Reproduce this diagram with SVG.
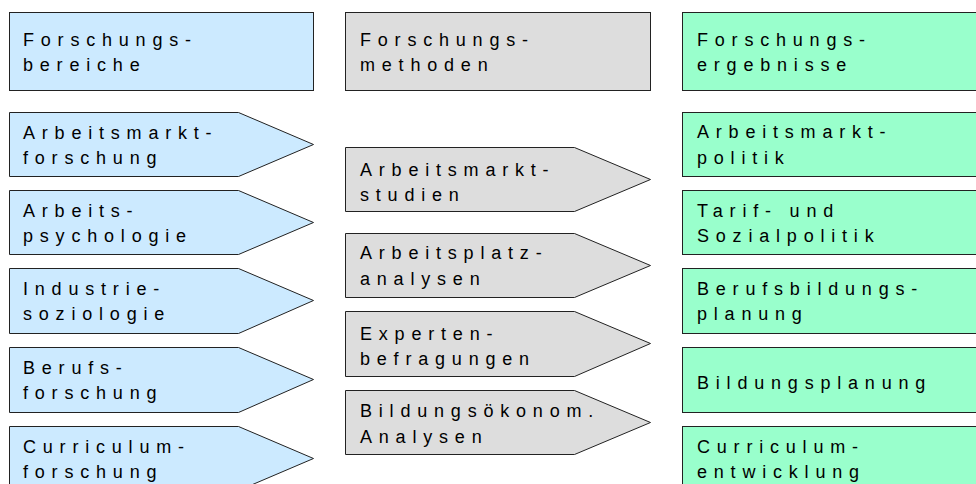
<svg xmlns="http://www.w3.org/2000/svg" width="976" height="484" viewBox="0 0 976 484">
<style>
.b{fill:#CCEAFF;stroke:#222;stroke-width:1}
.g{fill:#DDDDDD;stroke:#222;stroke-width:1}
.e{fill:#99FFCC;stroke:#222;stroke-width:1}
text{font-family:"Liberation Sans",Arial,sans-serif;font-size:18px;fill:#000;letter-spacing:6.8px}
</style>
<rect width="976" height="484" fill="#fff"/>
<g id="h-bereiche"><rect class="b" x="9.5" y="12.5" width="304" height="78"/><text x="23" y="46">Forschungs-</text><text x="23" y="71">bereiche</text></g>
<g id="h-methoden"><rect class="g" x="345.5" y="12.5" width="305" height="78"/><text x="360" y="46">Forschungs-</text><text x="360" y="71">methoden</text></g>
<g id="h-ergebnisse"><rect class="e" x="682.5" y="12.5" width="300" height="78"/><text x="697" y="46">Forschungs-</text><text x="697" y="71">ergebnisse</text></g>

<g id="l1"><path class="b" d="M9.5 112.5H238.5L313.5 144.5L238.5 176.5H9.5Z"/><text x="23" y="139">Arbeitsmarkt-</text><text x="23" y="164">forschung</text></g>
<g id="l2"><path class="b" d="M9.5 190.5H238.5L313.5 222.5L238.5 254.5H9.5Z"/><text x="23" y="217">Arbeits-</text><text x="23" y="242">psychologie</text></g>
<g id="l3"><path class="b" d="M9.5 268.5H238.5L313.5 300.5L238.5 333.5H9.5Z"/><text x="23" y="295">Industrie-</text><text x="23" y="320">soziologie</text></g>
<g id="l4"><path class="b" d="M9.5 347.5H238.5L313.5 379.5L238.5 412.5H9.5Z"/><text x="23" y="374">Berufs-</text><text x="23" y="399">forschung</text></g>
<g id="l5"><path class="b" d="M9.5 426.5H238.5L313.5 458.5L238.5 490.5H9.5Z"/><text x="23" y="453">Curriculum-</text><text x="23" y="478">forschung</text></g>

<g id="m1"><path class="g" d="M345.5 147.5H574.5L650.5 179.5L574.5 211.5H345.5Z"/><text x="360" y="176">Arbeitsmarkt-</text><text x="360" y="201">studien</text></g>
<g id="m2"><path class="g" d="M345.5 233.5H574.5L650.5 265.5L574.5 297.5H345.5Z"/><text x="360" y="259">Arbeitsplatz-</text><text x="360" y="285">analysen</text></g>
<g id="m3"><path class="g" d="M345.5 311.5H574.5L650.5 343.5L574.5 376.5H345.5Z"/><text x="360" y="340">Experten-</text><text x="360" y="365">befragungen</text></g>
<g id="m4"><path class="g" d="M345.5 390.5H574.5L650.5 422.5L574.5 454.5H345.5Z"/><text x="360" y="417">Bildungsökonom.</text><text x="360" y="443">Analysen</text></g>

<g id="r1"><rect class="e" x="682.5" y="112.5" width="300" height="64"/><text x="697" y="138">Arbeitsmarkt-</text><text x="697" y="164">politik</text></g>
<g id="r2"><rect class="e" x="682.5" y="190.5" width="300" height="64"/><text x="697" y="217">Tarif- und</text><text x="697" y="242">Sozialpolitik</text></g>
<g id="r3"><rect class="e" x="682.5" y="268.5" width="300" height="65"/><text x="697" y="295">Berufsbildungs-</text><text x="697" y="320">planung</text></g>
<g id="r4"><rect class="e" x="682.5" y="347.5" width="300" height="65"/><text x="697" y="389">Bildungsplanung</text></g>
<g id="r5"><rect class="e" x="682.5" y="426.5" width="300" height="64"/><text x="697" y="453">Curriculum-</text><text x="697" y="478">entwicklung</text></g>
<g id="connectors"/>
</svg>
